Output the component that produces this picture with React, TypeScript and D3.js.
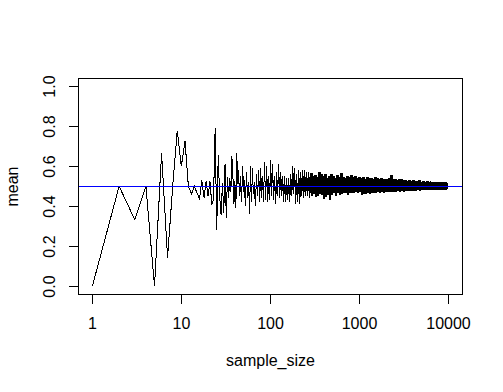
import React from "react";
import * as d3 from "d3";

// Sample means for sample sizes 1..43 (read individually)
const earlyMeans = [
  0, 0.5, 0.333, 0.5, 0, 0.667, 0.143, 0.5, 0.778, 0.6,
  0.727, 0.5, 0.462, 0.5, 0.467, 0.438, 0.529, 0.444, 0.526, 0.45,
  0.524, 0.409, 0.435, 0.792, 0.28, 0.654, 0.444, 0.357, 0.517, 0.367,
  0.613, 0.344, 0.545, 0.441, 0.543, 0.472, 0.649, 0.553, 0.41, 0.525,
  0.39, 0.667, 0.512,
];

// Dense part: sample sizes with the upper / lower extent of the means read per bin
const bandN = [
  44, 46, 49, 51, 54, 57, 60, 63, 66, 70, 74, 78, 82, 86, 91, 96, 101, 106, 112, 118,
  124, 131, 138, 145, 153, 161, 170, 179, 188, 198, 209, 220, 232, 244, 257, 271, 285, 300, 316, 333,
  351, 370, 390, 410, 432, 455, 479, 505, 532, 560, 590, 621, 654, 689, 726, 764, 805, 848, 893, 940,
  990, 1043, 1098, 1157, 1218, 1283, 1351, 1423, 1498, 1578, 1662, 1750, 1843, 1941, 2044, 2153, 2267, 2388, 2514, 2648,
  2789, 2937, 3093, 3257, 3430, 3612, 3804, 4006, 4219, 4443, 4679, 4927, 5189, 5465, 5755, 6060, 6382, 6721, 7078, 7454,
  7850, 8267, 8706, 9168, 9655,
];
const bandHi = [
  0.58, 0.55, 0.6, 0.53, 0.57, 0.52, 0.6, 0.59, 0.52, 0.56, 0.58, 0.59, 0.55, 0.62, 0.6, 0.55, 0.63, 0.61, 0.55, 0.57,
  0.61, 0.57, 0.55, 0.55, 0.54, 0.54, 0.56, 0.6, 0.59, 0.56, 0.58, 0.57, 0.58, 0.58, 0.57, 0.57, 0.565, 0.55, 0.555, 0.545,
  0.57, 0.56, 0.55, 0.56, 0.54, 0.55, 0.56, 0.552, 0.54, 0.557, 0.545, 0.565, 0.548, 0.54, 0.55, 0.545, 0.557, 0.548, 0.552, 0.54,
  0.545, 0.542, 0.545, 0.538, 0.546, 0.54, 0.543, 0.538, 0.545, 0.54, 0.537, 0.54, 0.535, 0.537, 0.535, 0.54, 0.555, 0.535, 0.538, 0.532,
  0.535, 0.537, 0.532, 0.53, 0.528, 0.53, 0.526, 0.532, 0.527, 0.525, 0.53, 0.524, 0.526, 0.523, 0.525, 0.522, 0.524, 0.522, 0.521, 0.523,
  0.52, 0.521, 0.52, 0.52, 0.519,
];
const bandLo = [
  0.45, 0.42, 0.47, 0.4, 0.44, 0.36, 0.42, 0.46, 0.4, 0.45, 0.42, 0.44, 0.42, 0.43, 0.42, 0.43, 0.45, 0.43, 0.41, 0.45,
  0.44, 0.45, 0.42, 0.42, 0.43, 0.42, 0.45, 0.46, 0.41, 0.42, 0.41, 0.45, 0.44, 0.45, 0.45, 0.44, 0.45, 0.46, 0.445, 0.45,
  0.46, 0.455, 0.435, 0.448, 0.457, 0.432, 0.457, 0.465, 0.452, 0.465, 0.457, 0.46, 0.468, 0.465, 0.457, 0.468, 0.465, 0.465, 0.472, 0.468,
  0.472, 0.455, 0.46, 0.462, 0.466, 0.46, 0.468, 0.465, 0.468, 0.47, 0.466, 0.47, 0.468, 0.472, 0.47, 0.472, 0.47, 0.474, 0.472, 0.475,
  0.474, 0.476, 0.474, 0.477, 0.476, 0.478, 0.477, 0.479, 0.478, 0.48, 0.479, 0.48, 0.481, 0.48, 0.482, 0.481, 0.482, 0.483, 0.482, 0.483,
  0.484, 0.483, 0.484, 0.484, 0.485,
];
const lastN = 10000;
const lastMean = 0.5;
// sample size above which the band of means is solid
const solidFrom = 280;

const xTicks = [1, 10, 100, 1000, 10000];
const yTicks = [0, 0.2, 0.4, 0.6, 0.8, 1.0];
const trueMean = 0.5;

const W = 503;
const H = 392;
const FONT = "'Liberation Sans', Arial, sans-serif";

export default function App() {
  const x = d3
    .scaleLog()
    .domain([Math.pow(10, -0.16), Math.pow(10, 4.16)])
    .range([78.1, 462.5]);
  const y = d3.scaleLinear().domain([-0.04, 1.04]).range([294.3, 78.3]);

  const pts: [number, number][] = earlyMeans.map((m, i) => [i + 1, m]);
  bandN.forEach((n, i) => {
    pts.push([n, bandHi[i]]);
    const next = i < bandN.length - 1 ? bandN[i + 1] : lastN;
    pts.push([Math.sqrt(n * next), bandLo[i]]);
  });
  pts.push([lastN, lastMean]);

  const line = d3
    .line<[number, number]>()
    .x((d) => x(d[0]))
    .y((d) => y(d[1]));

  type Bin = { n: number; hi: number; lo: number };
  const bins: Bin[] = bandN
    .map((n, i) => ({ n, hi: bandHi[i], lo: bandLo[i] }))
    .filter((b) => b.n >= solidFrom);
  bins.push({ n: lastN, hi: bandHi[bandHi.length - 1], lo: bandLo[bandLo.length - 1] });
  const area = d3
    .area<Bin>()
    .x((d) => x(d.n))
    .y0((d) => y(d.lo))
    .y1((d) => y(d.hi))
    .curve(d3.curveStepAfter);

  const left = 78.5;
  const right = 462.5;
  const top = 78.5;
  const bottom = 294.5;
  const fmt = d3.format(".1f");

  return (
    <svg
      width={W}
      height={H}
      style={{ position: "absolute", left: 0, top: 0, background: "#fff" }}
      fontFamily={FONT}
    >
      <rect x={0} y={0} width={W} height={H} fill="#fff" />
      <path d={area(bins) || ""} fill="#000" stroke="none" shapeRendering="crispEdges" />
      <path
        d={line(pts) || ""}
        fill="none"
        stroke="#000"
        strokeWidth={1}
        shapeRendering="crispEdges"
      />
      <line
        x1={left}
        x2={right}
        y1={Math.round(y(trueMean)) + 0.5}
        y2={Math.round(y(trueMean)) + 0.5}
        stroke="#0000ff"
        strokeWidth={1}
        shapeRendering="crispEdges"
      />
      <rect
        x={left}
        y={top}
        width={right - left}
        height={bottom - top}
        fill="none"
        stroke="#000"
        strokeWidth={1}
        shapeRendering="crispEdges"
      />
      {/* x axis */}
      <line
        x1={Math.round(x(xTicks[0])) + 0.5}
        x2={Math.round(x(xTicks[xTicks.length - 1])) + 0.5}
        y1={bottom}
        y2={bottom}
        stroke="#000"
        shapeRendering="crispEdges"
      />
      {xTicks.map((t) => {
        const px = Math.round(x(t)) + 0.5;
        return (
          <g key={"x" + t}>
            <line x1={px} x2={px} y1={bottom} y2={bottom + 9.6} stroke="#000" shapeRendering="crispEdges" />
            <text x={px} y={329} fontSize={16} textAnchor="middle" fill="#000">
              {t}
            </text>
          </g>
        );
      })}
      {/* y axis */}
      {yTicks.map((t) => {
        const py = Math.round(y(t)) + 0.5;
        return (
          <g key={"y" + t}>
            <line x1={left - 9.6} x2={left} y1={py} y2={py} stroke="#000" shapeRendering="crispEdges" />
            <text
              transform={`translate(55,${py}) rotate(-90)`}
              fontSize={16}
              textAnchor="middle"
              fill="#000"
            >
              {fmt(t)}
            </text>
          </g>
        );
      })}
      <text x={(left + right) / 2} y={366} fontSize={16} textAnchor="middle" fill="#000">
        sample_size
      </text>
      <text
        transform={`translate(18.3,${(top + bottom) / 2}) rotate(-90)`}
        fontSize={16}
        textAnchor="middle"
        fill="#000"
      >
        mean
      </text>
    </svg>
  );
}
